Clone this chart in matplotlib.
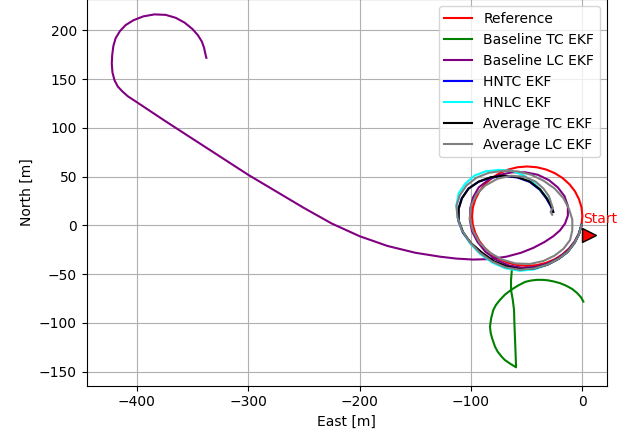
import matplotlib
matplotlib.use('Agg')
import matplotlib.pyplot as plt

# East/North tracks [m]
ref_e = [-0.7, -3.0, -6.6, -11.6, -17.7, -24.8, -32.6, -40.9, -49.5, -58.1, -66.4, -74.3,
         -81.3, -87.4, -92.4, -96.0, -98.3, -99.0, -98.3, -96.0, -92.4, -87.4, -81.3, -74.3,
         -66.4, -58.1, -49.5, -40.9, -32.6, -24.8, -17.7, -11.6, -6.6, -3.0, -0.7, 0.0, -0.7]
ref_n = [0.6, -7.9, -16.0, -23.3, -29.6, -34.7, -38.4, -40.7, -41.5, -40.7, -38.4, -34.7,
         -29.6, -23.3, -16.0, -7.9, 0.6, 9.5, 18.4, 26.9, 35.0, 42.3, 48.6, 53.7,
         57.4, 59.7, 60.5, 59.7, 57.4, 53.7, 48.6, 42.3, 35.0, 26.9, 18.4, 9.5, 0.6]

btc_e = [0.9, -1.0, -4.5, -9.2, -14.5, -20.0, -25.5, -30.8, -36.0, -40.9, -46.0, -51.4,
         -57.5, -64.0, -69.5, -73.9, -77.5, -79.9, -81.8, -82.9, -82.3, -81.1, -78.4, -76.0,
         -72.5, -69.6, -64.5, -59.5, -59.8, -60.4, -61.0, -61.3, -62.5, -64.0, -64.0, -63.1]
btc_n = [-78.1, -74.0, -69.5, -65.1, -61.8, -59.2, -57.5, -56.3, -55.8, -55.8, -56.5, -57.9,
         -61.5, -66.1, -71.0, -76.3, -81.5, -86.6, -95.0, -103.8, -110.0, -115.4, -124.3, -129.5,
         -134.5, -138.0, -142.0, -145.5, -135.0, -117.4, -100.0, -86.6, -76.0, -66.1, -55.8, -43.5]

blc_e = [-0.7, -3.0, -7.0, -13.0, -21.0, -31.0, -42.0, -54.0, -66.0, -77.0, -87.0, -94.0,
         -99.0, -101.0, -100.5, -98.0, -93.0, -84.0, -74.0, -63.0, -51.0, -40.0, -30.0, -22.0,
         -16.0, -13.0, -13.0, -15.5, -20.0, -26.0, -34.0, -44.0, -55.0, -68.0, -83.0, -98.0,
         -113.0, -128.0, -150.0, -175.0, -200.0, -225.0, -250.0, -275.0, -300.0, -325.0, -350.0,
         -375.0, -400.0, -408.0, -413.0, -417.0, -420.0, -421.8, -422.4, -422.0, -421.0, -419.0,
         -415.0, -410.0, -403.0, -394.0, -384.0, -374.0, -365.0, -357.0, -350.0, -345.0,
         -341.5, -339.5, -338.5, -337.5]
blc_n = [0.6, -8.5, -17.0, -25.5, -33.0, -39.0, -42.5, -43.5, -41.0, -35.5, -27.0, -17.0,
         -6.0, 6.0, 18.0, 29.0, 39.0, 47.0, 52.0, 54.5, 54.5, 52.0, 46.5, 39.0,
         30.0, 20.0, 10.0, 2.0, -5.0, -11.0, -17.0, -23.0, -28.0, -32.0, -34.5, -35.0,
         -34.0, -32.0, -28.0, -21.0, -11.0, 2.0, 18.0, 35.0, 52.0, 70.5, 89.0,
         107.5, 126.5, 132.5, 137.6, 142.5, 149.0, 157.0, 166.0, 175.0, 184.0, 192.0,
         199.5, 205.5, 210.5, 214.5, 216.5, 216.0, 213.0, 208.0, 201.5, 195.0,
         188.5, 182.0, 176.5, 172.0]

hntc_e = [-0.7, -3.3, -7.3, -13.3, -21.3, -31.3, -43.3, -56.3, -68.3, -79.3, -90.3, -100.3,
          -107.3, -111.3, -111.3, -108.3, -102.3, -93.3, -82.3, -70.3, -58.3, -47.3, -38.3,
          -32.3, -28.3, -26.3]
hntc_n = [0.6, -9.3, -18.3, -27.3, -34.3, -40.3, -44.3, -45.3, -42.3, -37.3, -28.3, -18.3,
          -7.3, 4.7, 16.7, 27.7, 37.7, 44.7, 49.2, 50.7, 49.2, 44.7, 36.7, 27.7, 19.7, 13.7]

hnlc_e = [-0.7, -3.0, -7.0, -13.0, -21.0, -31.0, -43.0, -56.0, -69.0, -81.0, -92.0, -101.0,
          -108.0, -112.0, -113.0, -111.0, -105.0, -97.0, -87.0, -75.0, -63.0, -52.0, -44.0,
          -38.0, -33.0, -29.0]
hnlc_n = [0.6, -9.0, -18.0, -27.0, -34.0, -40.0, -45.0, -46.5, -44.0, -38.0, -29.0, -18.0,
          -5.0, 8.0, 21.0, 33.0, 43.0, 51.0, 55.5, 57.0, 56.0, 51.0, 44.0, 37.0, 30.0, 24.0]

atc_e = [-0.7, -3.0, -7.0, -13.0, -21.0, -31.0, -43.0, -56.0, -68.0, -79.0, -90.0, -100.0,
         -107.0, -111.0, -111.0, -108.0, -102.0, -93.0, -82.0, -70.0, -58.0, -47.0, -38.0,
         -32.0, -28.0, -26.0]
atc_n = [0.6, -9.0, -18.0, -27.0, -34.0, -40.0, -44.0, -45.0, -42.0, -37.0, -28.0, -18.0,
         -7.0, 5.0, 17.0, 28.0, 38.0, 45.0, 49.5, 51.0, 49.5, 45.0, 37.0, 28.0, 20.0, 14.0]

alc_e = [-0.7, -3.0, -7.0, -13.0, -21.0, -31.0, -43.0, -56.0, -69.0, -81.0, -92.0, -101.0,
         -108.0, -112.0, -113.0, -110.0, -104.0, -95.0, -84.0, -71.0, -58.0, -46.0, -35.0,
         -25.0, -17.0, -12.0, -9.0, -9.0, -11.0, -17.0, -25.0, -35.0, -47.0, -60.0, -72.0,
         -83.0, -92.0, -98.0, -101.0, -100.0, -95.0, -87.0, -76.0, -64.0, -52.0, -42.0,
         -35.0, -30.0, -28.0, -26.5, -28.5, -27.0]
alc_n = [0.6, -9.0, -18.0, -27.0, -34.0, -40.0, -44.0, -45.5, -43.0, -37.0, -28.0, -17.0,
         -5.0, 8.0, 20.0, 31.0, 41.0, 49.0, 54.0, 56.0, 55.5, 52.0, 46.0, 38.0, 28.0,
         17.0, 6.0, -5.0, -15.0, -24.0, -31.0, -36.5, -39.5, -39.0, -35.0, -28.0, -18.0,
         -6.0, 7.0, 20.0, 32.0, 41.0, 48.0, 51.0, 50.0, 45.0, 38.0, 30.0, 23.0, 18.0,
         14.0, 11.0]

start_e, start_n = 6.0, -10.0

fig = plt.figure(figsize=(6.33, 4.37), dpi=100)
ax = fig.add_axes([0.137, 0.1178, 0.8215, 0.8834])

ax.plot(ref_e, ref_n, color='red', label='Reference')
ax.plot(btc_e, btc_n, color='green', label='Baseline TC EKF')
ax.plot(blc_e, blc_n, color='purple', label='Baseline LC EKF')
ax.plot(hntc_e, hntc_n, color='blue', label='HNTC EKF')
ax.plot(hnlc_e, hnlc_n, color='cyan', label='HNLC EKF')
ax.plot(atc_e, atc_n, color='black', label='Average TC EKF')
ax.plot(alc_e, alc_n, color='gray', label='Average LC EKF')

ax.plot(start_e, start_n, '>', color='red', markeredgecolor='black', markersize=10)
ax.text(1.0, 2.5, 'Start', color='red')

ax.set_xlim(-444.9, 21.9)
ax.set_ylim(-164.2, 231.8)
ax.set_xlabel('East [m]')
ax.set_ylabel('North [m]')
ax.grid(True)
ax.legend(loc='upper right')

fig.savefig('out.png', dpi=100)
